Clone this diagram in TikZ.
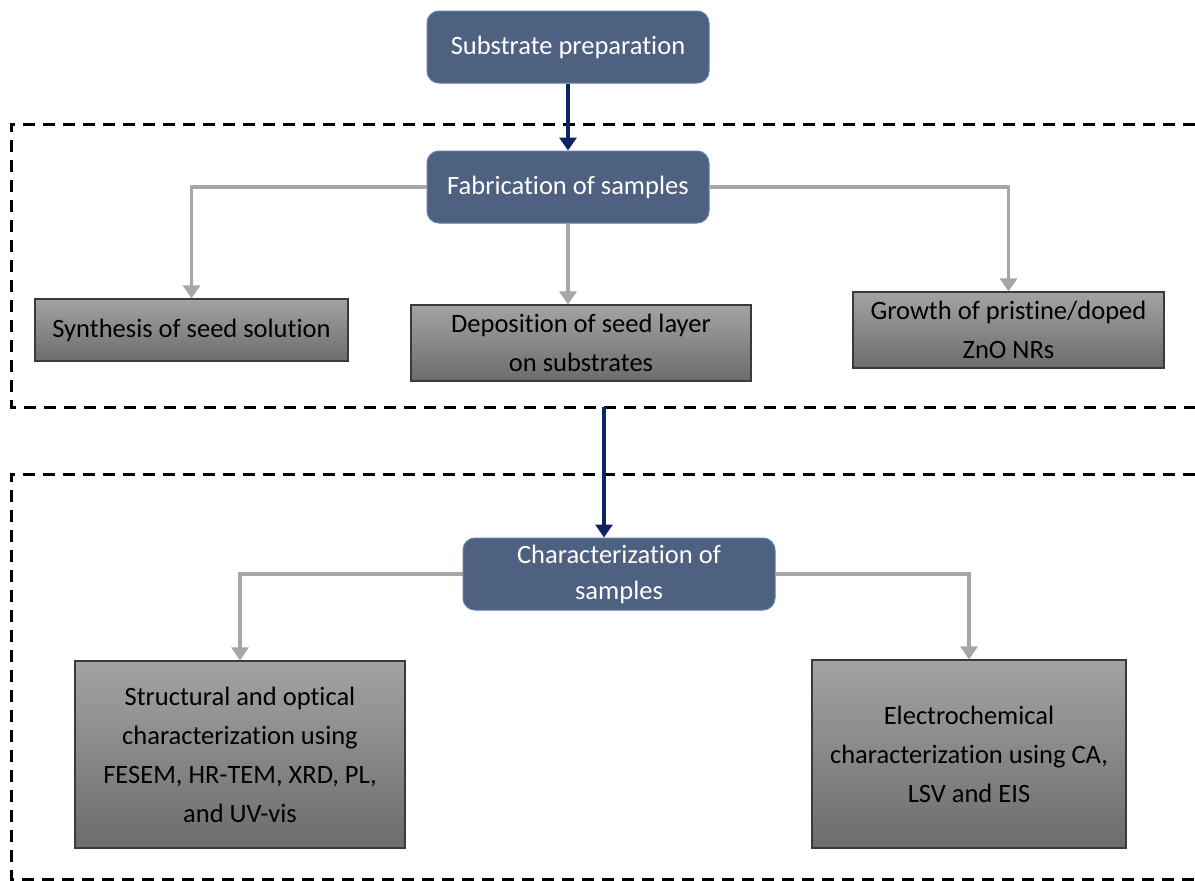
\documentclass[tikz,border=0pt]{standalone}
\usepackage{fontspec}
\setmainfont{Carlito}[Ligatures={NoCommon}]
\usetikzlibrary{arrows.meta}
\definecolor{bluebox}{HTML}{4F6181}
\definecolor{blueedge}{HTML}{5B7DB5}
\definecolor{navy}{HTML}{0C2366}
\definecolor{linegray}{HTML}{A6A6A6}
\definecolor{graytop}{HTML}{A3A3A3}
\definecolor{graybot}{HTML}{6C6C6C}
\definecolor{grayedge}{HTML}{3A3A3A}
\tikzset{
  bluenode/.style={draw=blueedge, line width=1pt, fill=bluebox, rounded corners=12pt, text=white, align=center, inner sep=0pt, font=\fontsize{26.5}{36}\selectfont},
  graynode/.style={draw=grayedge, line width=1.2pt, top color=graytop, bottom color=graybot, text=black, align=center, inner sep=0pt, font=\fontsize{26.5}{39}\selectfont},
  navyarrow/.style={draw=navy, line width=3.5pt, -{Triangle[length=13pt,width=17pt]}},
  grayarrow/.style={draw=linegray, line width=3.5pt, -{Triangle[length=13pt,width=17pt]}},
  dashbox/.style={draw=black, line width=3pt, dash pattern=on 12pt off 8pt}
}
\begin{document}
\begin{tikzpicture}[x=1pt,y=-1pt]
\useasboundingbox (0,0) rectangle (1195,881);
\fill[white] (0,0) rectangle (1195,881);
% dashed groups
\draw[dashbox] (1195,124) -- (11,124) -- (11,407) -- (1195,407);
\draw[dashbox] (1195,474) -- (11,474) -- (11,879) -- (1195,879);
% blue nodes
\node[bluenode, minimum width=282pt, minimum height=72pt] (sub) at (568,47) {Substrate preparation};
\node[bluenode, minimum width=282pt, minimum height=72pt] (fab) at (568,187) {Fabrication of samples};
\node[bluenode, minimum width=312pt, minimum height=72pt] (char) at (619,574) {Characterization of\\samples};
% gray nodes
\node[graynode, minimum width=313pt, minimum height=62pt] (syn) at (191.5,330) {Synthesis of seed solution};
\node[graynode, minimum width=340pt, minimum height=76pt] (dep) at (581,343) {Deposition of seed layer\\on substrates};
\node[graynode, minimum width=311pt, minimum height=76pt] (gro) at (1008.5,330) {Growth of pristine/doped\\ZnO NRs};
\node[graynode, minimum width=330pt, minimum height=187pt] (str) at (240,754.5) {Structural and optical\\characterization using\\FESEM, HR-TEM, XRD, PL,\\and UV-vis};
\node[graynode, minimum width=314pt, minimum height=188pt] (ele) at (969,754) {Electrochemical\\characterization using CA,\\LSV and EIS};
\coordinate (mid) at (604,407);
% connectors
\draw[navyarrow] (sub.south) -- (fab.north);
\draw[navyarrow] (mid) -- (mid |- char.north);
\draw[grayarrow] (fab.west) -| (syn.north);
\draw[grayarrow] (fab.south) -- (fab.south |- dep.north);
\draw[grayarrow] (fab.east) -| (gro.north);
\draw[grayarrow] (char.west) -| (str.north);
\draw[grayarrow] (char.east) -| (ele.north);
\end{tikzpicture}
\end{document}
